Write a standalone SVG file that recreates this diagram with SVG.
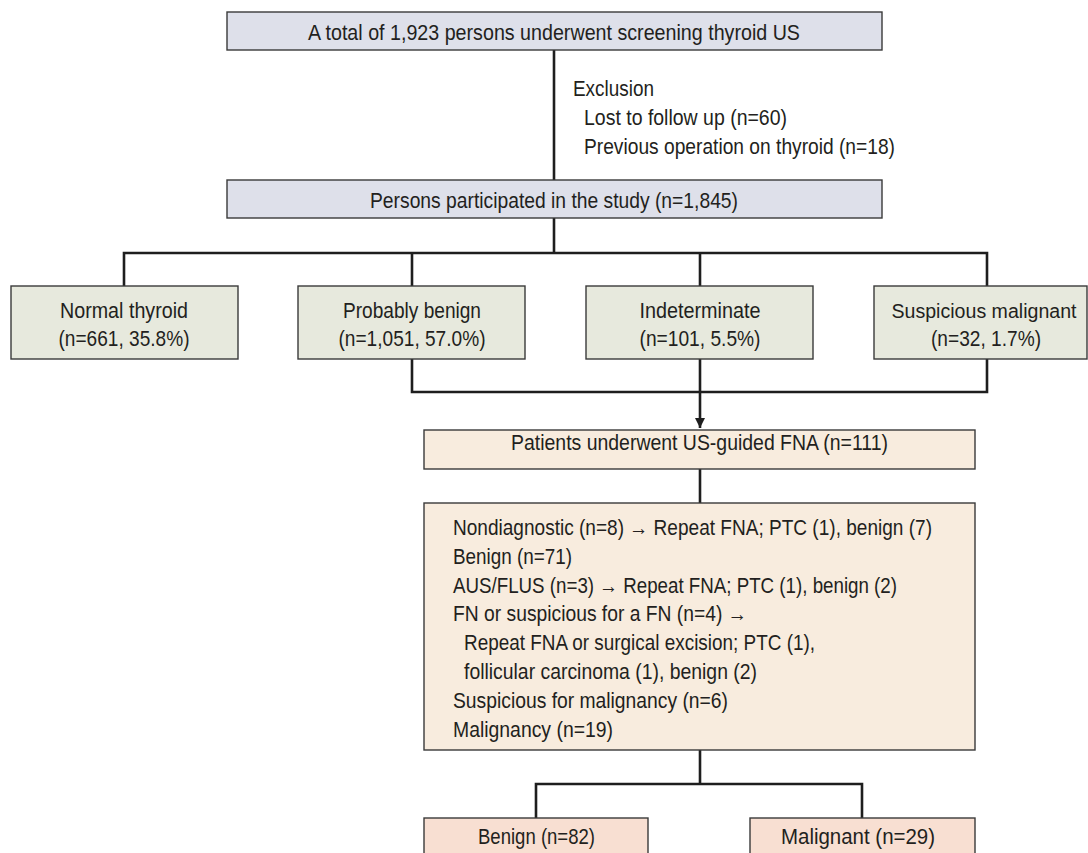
<svg xmlns="http://www.w3.org/2000/svg" width="1088" height="853" viewBox="0 0 1088 853">
<style>
.t{font-family:"Liberation Sans Narrow","Liberation Sans",Arial,sans-serif;font-size:22px;fill:#231f20}
.c{text-anchor:middle}
.bx{stroke:#3a3a3a;stroke-width:1.4}
.blue{fill:#dee0ea}
.green{fill:#e7e9dd}
.beige{fill:#f8ecde}
.pink{fill:#f8dfd2}
.ln{fill:none;stroke:#1e1e1e;stroke-width:2.6}
</style>
<defs>
<marker id="ah" viewBox="0 0 10 10" refX="10" refY="5" markerWidth="10" markerHeight="10" markerUnits="userSpaceOnUse" orient="auto">
<path d="M0,0 L10,5 L0,10 Z" fill="#1e1e1e"/>
</marker>
</defs>
<rect width="1088" height="853" fill="#ffffff"/>
<g id="connectors">
<path class="ln" d="M554,50 V180"/>
<path class="ln" d="M554,218 V253"/>
<path class="ln" d="M124,286 V253 H987 V286"/>
<path class="ln" d="M412,253 V286"/>
<path class="ln" d="M700,253 V286"/>
<path class="ln" d="M412,359 V392 H987 V359"/>
<path class="ln" d="M700,359 V428" marker-end="url(#ah)"/>
<path class="ln" d="M700,469 V503"/>
<path class="ln" d="M700,750 V784"/>
<path class="ln" d="M536,818 V784 H862 V818"/>
</g>
<g id="screening">
<rect class="bx blue" x="227" y="12" width="655" height="38"/>
<text class="t c" x="554" y="39.5" textLength="492" lengthAdjust="spacingAndGlyphs">A total of 1,923 persons underwent screening thyroid US</text>
</g>
<g id="exclusion">
<text class="t" x="573" y="96" textLength="81" lengthAdjust="spacingAndGlyphs">Exclusion</text>
<text class="t" x="584" y="125" textLength="203" lengthAdjust="spacingAndGlyphs">Lost to follow up (n=60)</text>
<text class="t" x="584" y="153.5" textLength="311" lengthAdjust="spacingAndGlyphs">Previous operation on thyroid (n=18)</text>
</g>
<g id="participants">
<rect class="bx blue" x="227" y="180" width="655" height="38"/>
<text class="t c" x="554" y="208" textLength="368" lengthAdjust="spacingAndGlyphs">Persons participated in the study (n=1,845)</text>
</g>
<g id="normal">
<rect class="bx green" x="11" y="286" width="227" height="73"/>
<text class="t c" x="124" y="318" textLength="128" lengthAdjust="spacingAndGlyphs">Normal thyroid</text>
<text class="t c" x="124" y="345.5" textLength="131" lengthAdjust="spacingAndGlyphs">(n=661, 35.8%)</text>
</g>
<g id="probably-benign">
<rect class="bx green" x="298" y="286" width="227" height="73"/>
<text class="t c" x="412" y="318" textLength="138" lengthAdjust="spacingAndGlyphs">Probably benign</text>
<text class="t c" x="412" y="345.5" textLength="147" lengthAdjust="spacingAndGlyphs">(n=1,051, 57.0%)</text>
</g>
<g id="indeterminate">
<rect class="bx green" x="586" y="286" width="227" height="73"/>
<text class="t c" x="700" y="318" textLength="121" lengthAdjust="spacingAndGlyphs">Indeterminate</text>
<text class="t c" x="700" y="345.5" textLength="121" lengthAdjust="spacingAndGlyphs">(n=101, 5.5%)</text>
</g>
<g id="suspicious-malignant">
<rect class="bx green" x="874" y="286" width="213" height="73"/>
<text class="t c" x="984" y="318" style="font-size:20px" textLength="185" lengthAdjust="spacingAndGlyphs">Suspicious malignant</text>
<text class="t c" x="986" y="345.5" textLength="110" lengthAdjust="spacingAndGlyphs">(n=32, 1.7%)</text>
</g>
<g id="fna">
<rect class="bx beige" x="424" y="430" width="551" height="39"/>
<text class="t c" x="699.5" y="449.5" textLength="377" lengthAdjust="spacingAndGlyphs">Patients underwent US-guided FNA (n=111)</text>
</g>
<g id="cytology">
<rect class="bx beige" x="424" y="503" width="551" height="247"/>
<text class="t" x="453" y="535" textLength="479" lengthAdjust="spacingAndGlyphs">Nondiagnostic (n=8) → Repeat FNA; PTC (1), benign (7)</text>
<text class="t" x="453" y="564" textLength="119" lengthAdjust="spacingAndGlyphs">Benign (n=71)</text>
<text class="t" x="453" y="592.5" textLength="444" lengthAdjust="spacingAndGlyphs">AUS/FLUS (n=3) → Repeat FNA; PTC (1), benign (2)</text>
<text class="t" x="453" y="621" textLength="294" lengthAdjust="spacingAndGlyphs">FN or suspicious for a FN (n=4) →</text>
<text class="t" x="464" y="650" textLength="351" lengthAdjust="spacingAndGlyphs">Repeat FNA or surgical excision; PTC (1),</text>
<text class="t" x="464" y="678.5" textLength="293" lengthAdjust="spacingAndGlyphs">follicular carcinoma (1), benign (2)</text>
<text class="t" x="453" y="707.5" textLength="275" lengthAdjust="spacingAndGlyphs">Suspicious for malignancy (n=6)</text>
<text class="t" x="453" y="736.5" textLength="160" lengthAdjust="spacingAndGlyphs">Malignancy (n=19)</text>
</g>
<g id="benign">
<rect class="bx pink" x="424" y="818" width="224" height="50"/>
<text class="t c" x="536.5" y="844" textLength="117" lengthAdjust="spacingAndGlyphs">Benign (n=82)</text>
</g>
<g id="malignant">
<rect class="bx pink" x="750" y="818" width="225" height="50"/>
<text class="t c" x="858" y="844" textLength="154" lengthAdjust="spacingAndGlyphs">Malignant (n=29)</text>
</g>
</svg>
